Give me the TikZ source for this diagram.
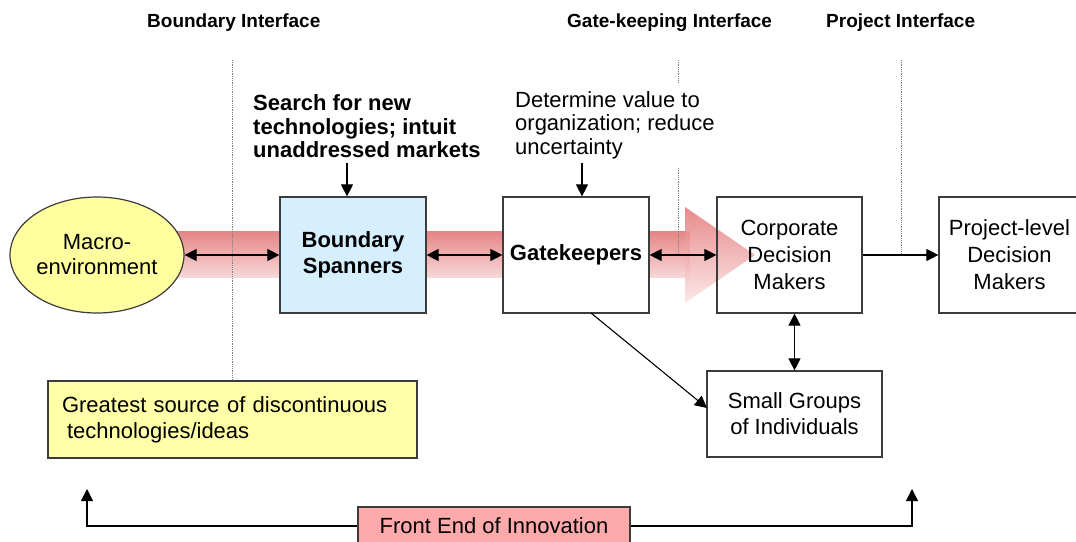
\documentclass[tikz,border=0pt]{standalone}
\usepackage{fontspec}
\setmainfont{Liberation Sans}
\usetikzlibrary{arrows.meta,shapes.geometric}
\definecolor{linegray}{RGB}{60,60,60}
\definecolor{bandtop}{RGB}{229,132,132}
\definecolor{bandbot}{RGB}{247,216,216}
\definecolor{headtop}{RGB}{228,118,118}
\definecolor{headbot}{RGB}{250,228,228}
\definecolor{macrofill}{RGB}{255,255,160}
\definecolor{yelfill}{RGB}{255,255,168}
\definecolor{bsfill}{RGB}{214,239,255}
\definecolor{fefill}{RGB}{255,170,170}
\begin{document}
\begin{tikzpicture}[x=1pt,y=-1pt,
  every node/.style={font=\fontsize{22}{26}\selectfont, text=black},
  bx/.style={draw=linegray, line width=1.2pt, rectangle, inner sep=0pt, align=center},
  conn/.style={line width=1.1pt, draw=black},
  tip/.style={-{Triangle[length=12pt,width=12pt]}},
  dtip/.style={{Triangle[length=12pt,width=12pt]}-{Triangle[length=12pt,width=12pt]}},
  iface/.style={draw=gray, line width=0.8pt, densely dotted},
  lbl/.style={font=\fontsize{19}{22}\selectfont\bfseries, anchor=base west, inner sep=0pt},
  note/.style={align=left, anchor=north west, inner sep=0pt}
]
\path[use as bounding box] (0,0) rectangle (1076,541);
\clip (0,0) rectangle (1076,541);

% big pink arrow: band
\foreach \i in {0,...,46} {
  \pgfmathsetmacro\p{100*\i/46}
  \fill[bandbot!\p!bandtop] (150,231+\i) rectangle (690,232.2+\i);
}
% arrow head
\begin{scope}
  \clip (685,207) -- (755,255) -- (685,303) -- cycle;
  \foreach \i in {0,...,95} {
    \pgfmathsetmacro\p{100*\i/95}
    \fill[headbot!\p!headtop, fill opacity=0.85] (684,207+\i) rectangle (756,208+\i);
  }
\end{scope}

% interface lines
\draw[iface] (232,60) -- (232,380);
\draw[iface] (678,60) -- (678,83);
\draw[iface] (678,168) -- (678,255);
\draw[iface] (901,60) -- (901,255);

% top labels
\node[lbl] (l1) at (147,27) {Boundary Interface};
\node[lbl] (l2) at (567,27) {Gate-keeping Interface};
\node[lbl] (l3) at (826,27) {Project Interface};

% notes
\node[note, font=\fontsize{22}{23.5}\selectfont\bfseries] (search) at (253,94.5)
  {Search for new\\technologies; intuit\\unaddressed markets};
\node[note, font=\fontsize{22}{23.5}\selectfont] (determ) at (515,91)
  {Determine value to\\organization; reduce\\uncertainty};

% main nodes
\node[ellipse, draw=linegray, line width=1.2pt, fill=macrofill, minimum width=174pt,
  minimum height=116pt, inner sep=0pt, align=center, font=\fontsize{22}{25}\selectfont]
  (macro) at (97,255) {Macro-\\environment};
\node[bx, fill=bsfill, minimum width=146pt, minimum height=116pt, font=\fontsize{22}{26}\selectfont\bfseries]
  (bs) at (353,255) {Boundary\\Spanners};
\node[bx, fill=white, minimum width=146pt, minimum height=116pt, font=\fontsize{22}{26}\selectfont\bfseries]
  (gk) at (576,255) {Gatekeepers};
\node[bx, minimum width=145pt, minimum height=116pt, font=\fontsize{22}{27}\selectfont]
  (corp) at (789.5,255) {Corporate\\Decision\\Makers};
\node[bx, fill=white, minimum width=141pt, minimum height=116pt, font=\fontsize{22}{27}\selectfont]
  (proj) at (1009.5,255) {Project-level\\Decision\\Makers};
\node[bx, fill=white, minimum width=175pt, minimum height=86pt, font=\fontsize{22}{26}\selectfont]
  (sg) at (794.5,414) {Small Groups\\of Individuals};
\node[bx, fill=yelfill, align=left, text width=341pt, inner xsep=14pt, inner ysep=0pt,
  minimum height=77pt, font=\fontsize{22}{26}\selectfont]
  (src) at (232.5,419.5) {Greatest source of discontinuous\\\hspace*{5pt}technologies/ideas};
\node[bx, fill=fefill, minimum width=272pt, minimum height=38pt, font=\fontsize{22}{26}\selectfont]
  (fe) at (494,526) {Front End of Innovation};

% connectors
\coordinate (s1) at (347,163);
\coordinate (s2) at (582,163);
\draw[conn,tip] (s1) -- (s1 |- bs.north);
\draw[conn,tip] (s2) -- (s2 |- gk.north);
\draw[conn,dtip] (macro.east) -- (bs.west);
\draw[conn,dtip] (bs.east) -- (gk.west);
\draw[conn,dtip] (gk.east) -- (corp.west);
\draw[conn,tip] (corp.east) -- (proj.west);
\draw[conn,dtip] (sg.north |- corp.south) -- (sg.north);
\coordinate (gkout) at (591,313);
\coordinate (sgin) at (707,408);
\draw[conn,tip] (gkout) -- (sgin);
\coordinate (lt) at (87,489);
\coordinate (rt) at (912,489);
\draw[conn,tip] (fe.west) -| (lt);
\draw[conn,tip] (fe.east) -| (rt);
\end{tikzpicture}
\end{document}
